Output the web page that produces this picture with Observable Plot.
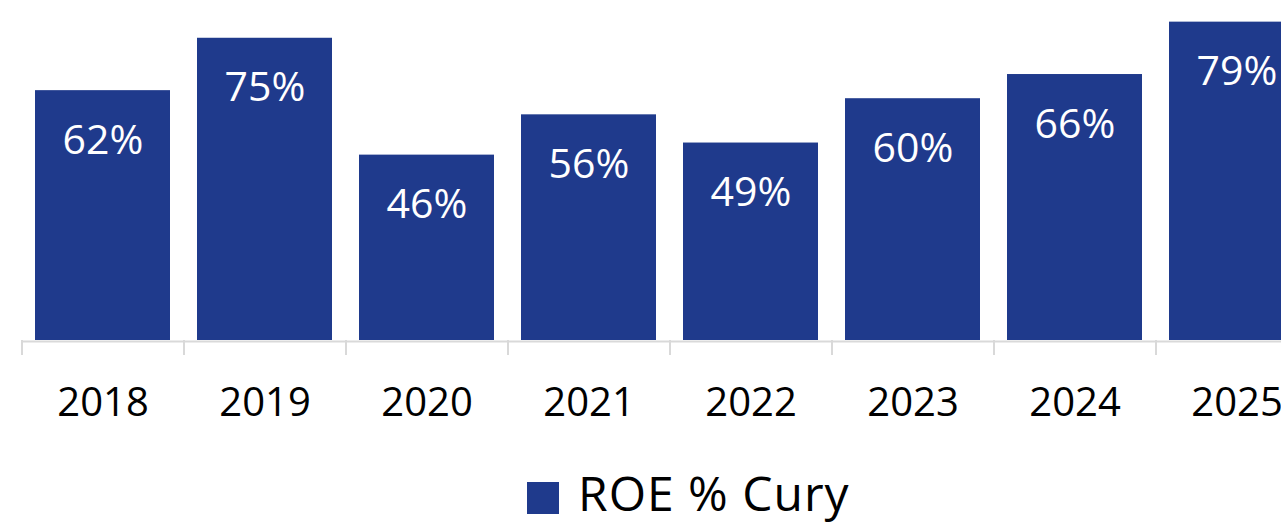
<!DOCTYPE html>
<html>
<head>
<meta charset="utf-8">
<script src="https://cdn.jsdelivr.net/npm/d3@7"></script>
<script src="https://cdn.jsdelivr.net/npm/@observablehq/plot@0.6"></script>
<style>
  html, body { margin: 0; padding: 0; background: #fff; overflow: hidden; width: 1281px; height: 525px; }
  #chart { position: absolute; left: 0; top: 0; width: 1317px; }
  #chart svg { max-width: none !important; width: 1317px !important; height: 460px !important; }
  #legend { position: absolute; left: 527px; top: 469px; display: flex; align-items: center; font-family: "Open Sans", sans-serif; font-size: 48px; letter-spacing: 1px; line-height: 1; color: #000; white-space: nowrap; }
  #legend .sw { width: 32px; height: 32px; margin-right: 19px; margin-top: 9px; }
</style>
</head>
<body>
<div id="chart"></div>
<div id="legend"></div>
<script>
const years = ["2018", "2019", "2020", "2021", "2022", "2023", "2024", "2025"];
const roe = [62, 75, 46, 56, 49, 60, 66, 79];
const seriesName = "ROE % Cury";
const barColor = "#1f3a8c";

const data = years.map((y, i) => ({year: y, value: roe[i]}));

const chart = Plot.plot({
  width: 1317,
  height: 460,
  marginLeft: 21,
  marginRight: 0,
  marginTop: 0,
  marginBottom: 120,
  style: {fontFamily: "'Open Sans', sans-serif", overflow: "visible", background: "#fff", maxWidth: "none"},
  x: {domain: years, paddingInner: 0.1667, paddingOuter: 0.0833, axis: null},
  y: {type: "linear", domain: [0, 84.37], axis: null},
  marks: [
    Plot.barY(data, {x: "year", y: "value", fill: barColor}),
    Plot.ruleY([0], {stroke: "#d9d9d9", strokeWidth: 2, dy: 1}),
    Plot.ruleX(years, {x: d => d, dx: -81, y1: () => 0, y2: () => -3.72, stroke: "#d9d9d9", strokeWidth: 2}),
    Plot.text(data, {x: "year", y: "value", text: d => d.value + "%", dy: 50, fill: "#fff", fontSize: 41, lineAnchor: "middle"}),
    Plot.text(years, {x: d => d, y: () => 0, text: d => d, dy: 63, fill: "#000", fontSize: 40, lineAnchor: "middle"})
  ]
});
document.getElementById("chart").appendChild(chart);

const lg = document.getElementById("legend");
const sw = document.createElement("span");
sw.className = "sw";
sw.style.background = barColor;
lg.appendChild(sw);
const lt = document.createElement("span");
lt.textContent = seriesName;
lg.appendChild(lt);
</script>
</body>
</html>
